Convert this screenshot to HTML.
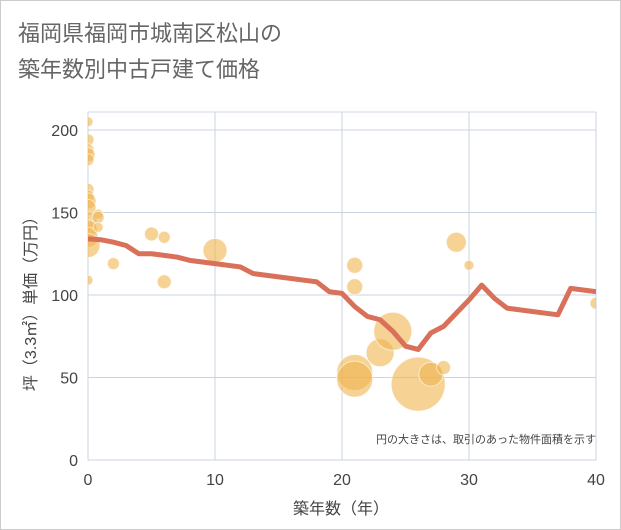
<!DOCTYPE html>
<html><head><meta charset="utf-8"><style>
body{margin:0;background:#fff;}
svg{display:block;font-family:"Liberation Sans","Noto Sans CJK JP",sans-serif;}
</style></head><body>
<svg width="621" height="530">
<defs><clipPath id="plotclip"><rect x="88" y="112" width="508" height="348"/></clipPath></defs>
<rect x="0.5" y="0.5" width="620" height="529" fill="#fff" stroke="#ccc"/>
<text x="18" y="41" font-size="22" fill="#666">福岡県福岡市城南区松山の</text>
<text x="18" y="77" font-size="22" fill="#666">築年数別中古戸建て価格</text>
<g id="grid"></g>
<g id="bubbles" clip-path="url(#plotclip)"></g>
<g id="line" clip-path="url(#plotclip)"></g>
<g id="axes"></g>
<text x="596" y="443" font-size="11" fill="#444" text-anchor="end">円の大きさは、取引のあった物件面積を示す</text>
<text x="341" y="514" font-size="16" fill="#444" text-anchor="middle">築年数（年）</text>
<text transform="translate(36,300) rotate(-90)" font-size="16" fill="#444" text-anchor="middle">坪（3.3㎡）単価（万円）</text>
</svg>
<script>
const xTicks=[0,10,20,30,40];
const yTicks=[0,50,100,150,200];
const lineX=[0,1,2,3,4,5,6,7,8,10,12,13,15,18,19,20,21,22,23,24,25,26,27,28,29,30,31,32,33,37,38,40];
const lineY=[134,133.5,132,130,125,125,124,123,121,119,117,113,111,108,102,101,93,87,85,78,69,67,77,81,89,97,106,98,92,88,104,102];
const bubX=[0,0,0,0,0,0,0,0,0,0,0,0,0,0,0.8,0.8,0.8,2,5,6,6,10,21,21,21,21,23,24,26,27,28,29,30,40];
const bubY=[205,194,188,185,182,164,160,157,153,145,140,135,130,109,149,147,141,119,137,135,108,127,118,105,53,49,65,78,46,52,56,132,118,95];
const bubR=[5,6,6,7,6,6,6,8,8,9,9,10,12,5,5,6,5,6,7,6,7,12,8,8,18,18,14,19,27,12,7,10,5,6];
const X0=88,X1=596,Y0=460,Y1=130;
const sx=v=>X0+(v-0)/(40-0)*(X1-X0);
const sy=v=>Y0-(v-0)/(200-0)*(Y0-Y1);
const NS="http://www.w3.org/2000/svg";
function mk(tag,attrs,parent){const e=document.createElementNS(NS,tag);for(const k in attrs)e.setAttribute(k,attrs[k]);document.getElementById(parent).appendChild(e);return e;}
mk('rect',{x:X0,y:112,width:X1-X0,height:Y0-112,fill:'none',stroke:'#d0dae4'},'grid');
xTicks.forEach(t=>{
 const l=mk('line',{x1:sx(t),x2:sx(t),y1:112,y2:Y0,stroke:'#c8d4e0','stroke-width':1},'grid');
 
 
 const tx=mk('text',{x:sx(t),y:485,'font-size':16,fill:'#444','text-anchor':'middle'},'axes');
 tx.textContent=t;
 
 
});
yTicks.forEach(t=>{
 const l=mk('line',{x1:X0,x2:X1,y1:sy(t),y2:sy(t),stroke:'#c8d4e0','stroke-width':1},'grid');
 
 
 const tx=mk('text',{x:78,y:sy(t)+6,'font-size':16,fill:'#444','text-anchor':'end'},'axes');
 tx.textContent=t;
 
 
});
bubX.forEach((v,i)=>{
 const c=mk('circle',{cx:sx(v),cy:sy(bubY[i]),r:bubR[i],fill:'#f0b44f','fill-opacity':0.6,stroke:'#fff','stroke-opacity':0.6,'stroke-width':1},'bubbles');
 
 
});
const pts=lineX.map((v,i)=>sx(v)+','+sy(lineY[i])).join(' ');
const pl=mk('polyline',{points:pts,fill:'none',stroke:'#d9705a','stroke-width':5,'stroke-linejoin':'round'},'line');


</script>
</body></html>
